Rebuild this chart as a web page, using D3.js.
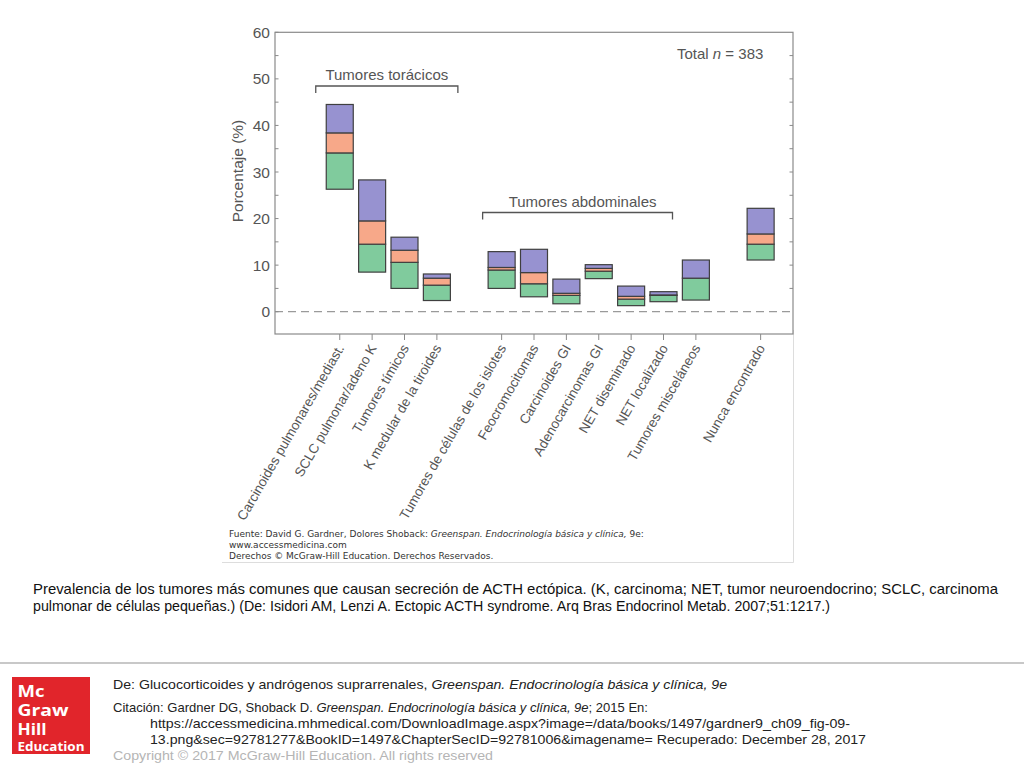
<!DOCTYPE html>
<html>
<head>
<meta charset="utf-8">
<script src="https://cdn.jsdelivr.net/npm/d3@7"></script>
<style>
  body { margin: 0; background: #fff; }
  svg { display: block; font-family: "Liberation Sans", Arial, Helvetica, sans-serif; }
</style>
</head>
<body>
<div id="chart"></div>
<script>
const categories = ["Carcinoides pulmonares/mediast.", "SCLC pulmonar/adeno K", "Tumores tímicos", "K medular de la tiroides",
  "Tumores de células de los islotes", "Feocromocitomas", "Carcinoides GI", "Adenocarcinomas GI", "NET diseminado",
  "NET localizado", "Tumores misceláneos", "Nunca encontrado"];
// 1 = thoracic, 2 = abdominal/misc, 3 = never found (an empty slot sits between groups)
const groups = [1, 1, 1, 1, 2, 2, 2, 2, 2, 2, 2, 3];
// bar limits (%)
const baseVals   = [26.3, 8.5, 5.0, 2.4, 5.0, 3.2, 1.7, 7.1, 1.3, 2.15, 2.5, 11.1];
const greenTop   = [34.1, 14.5, 10.6, 5.7, 8.95, 6.0, 3.5, 8.7, 2.7, 3.5, 7.2, 14.5];
const salmonTop  = [38.4, 19.5, 13.2, 7.2, 9.5, 8.4, 3.95, 9.3, 3.3, 3.6, 7.2, 16.7];
const purpleTop  = [44.5, 28.3, 16.0, 8.1, 12.9, 13.4, 7.0, 10.1, 5.5, 4.3, 11.1, 22.2];
const yTicks = [0, 10, 20, 30, 40, 50, 60];
const bracketLabels = ["Tumores torácicos", "Tumores abdominales"];
const bracketFirst = ["Carcinoides pulmonares/mediast.", "Tumores de células de los islotes"];
const bracketLast = ["K medular de la tiroides", "NET localizado"];
const totalN = 383;

const width = 1024, height = 768;
const colors = { green: "#80cb9d", salmon: "#f7a889", purple: "#9792d0" };
const grey = "#555";

// slot index: one empty slot between groups
let slot = -1;
const slots = categories.map((c, i) => {
  slot += (i > 0 && groups[i] !== groups[i - 1]) ? 2 : 1;
  return slot;
});
const slotOf = name => slots[categories.indexOf(name)];

const svg = d3.select("#chart").append("svg")
  .attr("width", width)
  .attr("height", height);

const x = d3.scaleLinear().domain([-2, 14]).range([275, 793]);
const y = d3.scaleLinear().domain([0, 60]).range([311.7, 32.3]);
const barW = 27;
const frameBottom = 334;

// light frame of the figure image
svg.append("path")
  .attr("d", `M222,562.5H793.5V330`)
  .attr("fill", "none")
  .attr("stroke", "#ddd");

// plot frame
svg.append("rect")
  .attr("x", x(-2)).attr("y", y(60))
  .attr("width", x(14) - x(-2)).attr("height", frameBottom - y(60))
  .attr("fill", "none")
  .attr("stroke", "#8a8a8a")
  .attr("stroke-width", 1.2);

// zero line
svg.append("line")
  .attr("x1", x(-2)).attr("x2", x(14))
  .attr("y1", y(0)).attr("y2", y(0))
  .attr("stroke", "#9a9a9a")
  .attr("stroke-width", 1.2)
  .attr("stroke-dasharray", "8,5");

// y axis (ticks inward every 5)
const minor = d3.range(0, 61, 5);
svg.append("g").selectAll("line")
  .data(minor)
  .enter().append("line")
  .attr("x1", x(-2)).attr("x2", x(-2) + 3.5)
  .attr("y1", d => y(d)).attr("y2", d => y(d))
  .attr("stroke", "#8a8a8a");
svg.append("g").selectAll("line")
  .data(minor.filter(d => d > 0 && d < 60))
  .enter().append("line")
  .attr("x1", x(14)).attr("x2", x(14) - 3.5)
  .attr("y1", d => y(d)).attr("y2", d => y(d))
  .attr("stroke", "#8a8a8a");
svg.append("g").selectAll("text")
  .data(yTicks)
  .enter().append("text")
  .attr("x", x(-2) - 5)
  .attr("y", d => y(d) + 5.5)
  .attr("text-anchor", "end")
  .style("font-size", "15.5px")
  .style("fill", grey)
  .text(d => d);

svg.append("text")
  .attr("transform", `translate(238,171) rotate(-90)`)
  .attr("text-anchor", "middle")
  .attr("dy", "0.35em")
  .style("font-size", "15.5px")
  .style("fill", grey)
  .text("Porcentaje (%)");

// x ticks and labels
svg.append("g").selectAll("line")
  .data(slots)
  .enter().append("line")
  .attr("x1", d => x(d)).attr("x2", d => x(d))
  .attr("y1", frameBottom).attr("y2", frameBottom + 6)
  .attr("stroke", "#8a8a8a");
svg.append("g").selectAll("text")
  .data(categories)
  .enter().append("text")
  .attr("transform", (d, i) => `translate(${x(slots[i]) + 5},${frameBottom + 14}) rotate(-60)`)
  .attr("text-anchor", "end")
  .style("font-size", "13.5px")
  .style("fill", grey)
  .text(d => d);

// stacked floating bars
const segs = [
  { lo: baseVals, hi: greenTop, color: colors.green },
  { lo: greenTop, hi: salmonTop, color: colors.salmon },
  { lo: salmonTop, hi: purpleTop, color: colors.purple }
];
segs.forEach(s => {
  svg.append("g").selectAll("rect")
    .data(categories)
    .enter().append("rect")
    .attr("x", (d, i) => x(slots[i]) - barW / 2)
    .attr("y", (d, i) => y(s.hi[i]))
    .attr("width", barW)
    .attr("height", (d, i) => Math.max(0, y(s.lo[i]) - y(s.hi[i])))
    .attr("fill", s.color)
    .attr("stroke", "#3f3f3f")
    .attr("stroke-width", 1.2);
});

// group brackets
const bracketY = [86, 212.5];
const bracketPad = [[24, 21], [19, 9]];
bracketLabels.forEach((g, k) => {
  const x0 = x(slotOf(bracketFirst[k])) - bracketPad[k][0];
  const x1 = x(slotOf(bracketLast[k])) + bracketPad[k][1];
  const by = bracketY[k];
  svg.append("path")
    .attr("d", `M${x0},${by + 7}V${by}H${x1}V${by + 7}`)
    .attr("fill", "none")
    .attr("stroke", "#555")
    .attr("stroke-width", 1.3);
  svg.append("text")
    .attr("x", (x0 + x1) / 2 + (k === 1 ? 5 : 0))
    .attr("y", by - 6)
    .attr("text-anchor", "middle")
    .style("font-size", "15px")
    .style("fill", grey)
    .text(g);
});

const tot = svg.append("text")
  .attr("x", 677).attr("y", 59)
  .style("font-size", "15px")
  .style("fill", grey);
tot.append("tspan").text("Total ");
tot.append("tspan").style("font-style", "italic").text("n");
tot.append("tspan").text(" = " + totalN);

// source note
const src = svg.append("g")
  .style("font-family", "'DejaVu Sans', Verdana, sans-serif")
  .style("font-size", "9px")
  .style("fill", "#333");
const s1 = src.append("text").attr("x", 229).attr("y", 537);
s1.append("tspan").text("Fuente: David G. Gardner, Dolores Shoback: ");
s1.append("tspan").style("font-style", "italic").text("Greenspan. Endocrinología básica y clínica,");
s1.append("tspan").text(" 9e:");
src.append("text").attr("x", 229).attr("y", 548).text("www.accessmedicina.com");
src.append("text").attr("x", 229).attr("y", 559).text("Derechos © McGraw-Hill Education. Derechos Reservados.");

// caption (condensed face: squeeze to the reference widths)
const cap = svg.append("g").style("font-size", "14.5px").style("fill", "#111");
cap.append("text").attr("x", 33).attr("y", 594)
  .attr("textLength", 965).attr("lengthAdjust", "spacingAndGlyphs")
  .text("Prevalencia de los tumores más comunes que causan secreción de ACTH ectópica. (K, carcinoma; NET, tumor neuroendocrino; SCLC, carcinoma");
cap.append("text").attr("x", 33).attr("y", 611)
  .attr("textLength", 797).attr("lengthAdjust", "spacingAndGlyphs")
  .text("pulmonar de células pequeñas.) (De: Isidori AM, Lenzi A. Ectopic ACTH syndrome. Arq Bras Endocrinol Metab. 2007;51:1217.)");

// footer
svg.append("line")
  .attr("x1", 0).attr("x2", width)
  .attr("y1", 663).attr("y2", 663)
  .attr("stroke", "#c8c8c8")
  .attr("stroke-width", 2);

svg.append("rect")
  .attr("x", 12).attr("y", 677)
  .attr("width", 78).attr("height", 77)
  .attr("fill", "#e1252b");
const logo = svg.append("g")
  .style("font-family", "'Open Sans', 'DejaVu Sans', sans-serif")
  .style("font-weight", "bold")
  .style("fill", "#fff");
logo.append("text").attr("x", 17.5).attr("y", 697).style("font-size", "16px")
  .attr("textLength", 27).attr("lengthAdjust", "spacingAndGlyphs").text("Mc");
logo.append("text").attr("x", 17.5).attr("y", 716).style("font-size", "16px")
  .attr("textLength", 51).attr("lengthAdjust", "spacingAndGlyphs").text("Graw");
logo.append("text").attr("x", 17.5).attr("y", 734.5).style("font-size", "16px")
  .attr("textLength", 29).attr("lengthAdjust", "spacingAndGlyphs").text("Hill");
logo.append("text").attr("x", 17.5).attr("y", 750.5).style("font-size", "12px")
  .attr("textLength", 67).attr("lengthAdjust", "spacingAndGlyphs").text("Education");

const foot = svg.append("g").style("font-size", "13.5px").style("fill", "#222");
const f1 = foot.append("text").attr("x", 113).attr("y", 689)
  .attr("textLength", 614).attr("lengthAdjust", "spacingAndGlyphs");
f1.append("tspan").text("De: Glucocorticoides y andrógenos suprarrenales, ");
f1.append("tspan").style("font-style", "italic").text("Greenspan. Endocrinología básica y clínica, 9e");
const f2 = foot.append("text").attr("x", 113).attr("y", 712)
  .attr("textLength", 535).attr("lengthAdjust", "spacingAndGlyphs");
f2.append("tspan").text("Citación: Gardner DG, Shoback D. ");
f2.append("tspan").style("font-style", "italic").text("Greenspan. Endocrinología básica y clínica, 9e");
f2.append("tspan").text("; 2015 En:");
foot.append("text").attr("x", 150).attr("y", 728)
  .attr("textLength", 700).attr("lengthAdjust", "spacingAndGlyphs")
  .text("https://accessmedicina.mhmedical.com/DownloadImage.aspx?image=/data/books/1497/gardner9_ch09_fig-09-");
foot.append("text").attr("x", 150).attr("y", 744)
  .attr("textLength", 716).attr("lengthAdjust", "spacingAndGlyphs")
  .text("13.png&sec=92781277&BookID=1497&ChapterSecID=92781006&imagename= Recuperado: December 28, 2017");
foot.append("text").attr("x", 113).attr("y", 760)
  .attr("textLength", 380).attr("lengthAdjust", "spacingAndGlyphs")
  .style("fill", "#b5b5b5")
  .text("Copyright © 2017 McGraw-Hill Education. All rights reserved");
</script>
</body>
</html>
